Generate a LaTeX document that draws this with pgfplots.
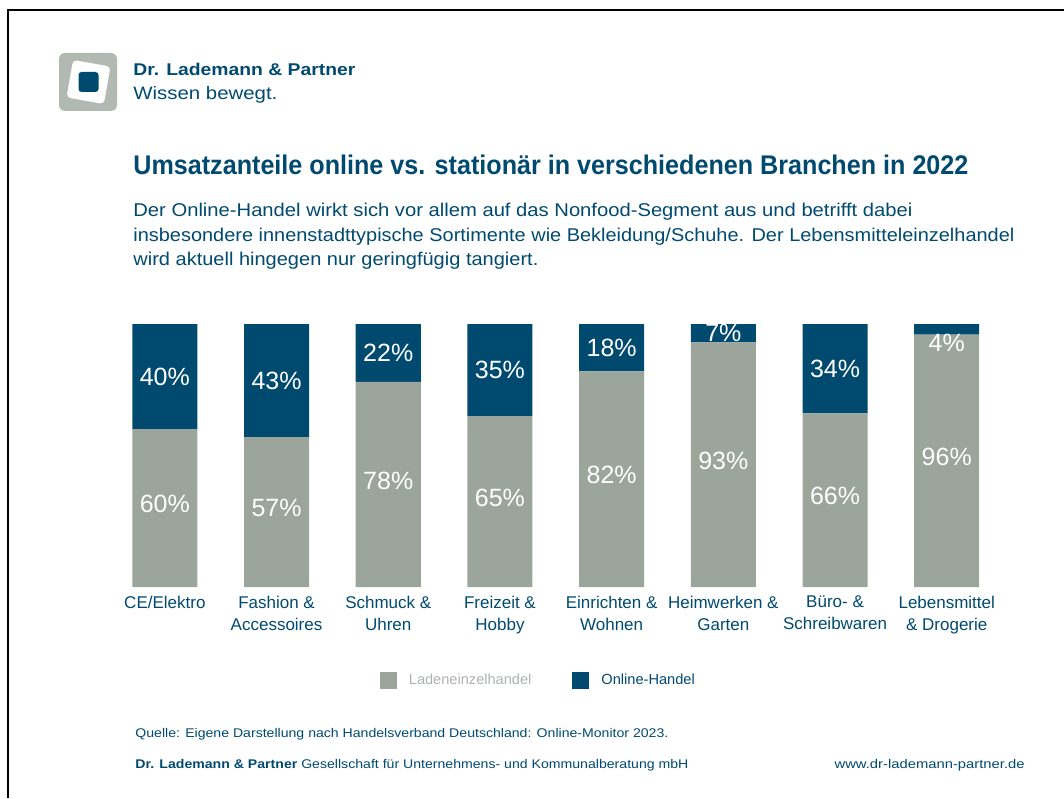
\documentclass[border=0pt]{standalone}
\usepackage{pgfplots}
\usepackage{pgfplotstable}
\pgfplotsset{compat=1.18}
\usepackage{fontspec}
\setmainfont{Liberation Sans}
\definecolor{dlblue}{HTML}{004A6F}
\definecolor{dlgrey}{HTML}{9BA59B}
\definecolor{logogrey}{HTML}{B2B8B2}
\definecolor{legtext}{HTML}{AEB3AE}

% Anteile in Prozent je Branche
\pgfplotstableread{
x laden online
0 60 40
1 57 43
2 78 22
3 65 35
4 82 18
5 93 7
6 66 34
7 96 4
}\anteile

\begin{document}
\begin{tikzpicture}
\useasboundingbox (0pt,0pt) rectangle (532pt,399pt);
\draw[line width=1.3pt] (4pt,0pt) -- (4pt,394pt) -- (532pt,394pt);

% logo
\node[fill=logogrey, rounded corners=3pt, minimum size=29pt, inner sep=0] at (44pt,358pt) {};
\node[fill=white, rounded corners=2pt, minimum size=19pt, inner sep=0, rotate=-10] at (44.25pt,358pt) {};
\node[fill=dlblue, rounded corners=1.5pt, minimum size=10pt, inner sep=0] at (44.25pt,358pt) {};
\node[anchor=base west, inner sep=0, text=dlblue, font=\fontsize{8.5}{10}\selectfont\bfseries] at (66.5pt,361pt)
  {\resizebox{111pt}{\height}{Dr. Lademann \& Partner}};
\node[anchor=base west, inner sep=0, text=dlblue, font=\fontsize{9}{11}\selectfont] at (66.5pt,349pt)
  {\resizebox{72pt}{\height}{Wissen bewegt.}};

% Titel und Text
\node[anchor=base west, inner sep=0, text=dlblue, font=\fontsize{13.5}{16}\selectfont\bfseries] at (66.5pt,311.5pt)
  {\resizebox{417.5pt}{\height}{Umsatzanteile online vs. stationär in verschiedenen Branchen in 2022}};
\begin{scope}[every node/.style={anchor=base west, inner sep=0, text=dlblue, font=\fontsize{9.25}{11}\selectfont}]
\node at (66.5pt,290.5pt) {\resizebox{389.5pt}{\height}{Der Online-Handel wirkt sich vor allem auf das Nonfood-Segment aus und betrifft dabei}};
\node at (66.5pt,278pt) {\resizebox{440.5pt}{\height}{insbesondere innenstadttypische Sortimente wie Bekleidung/Schuhe. Der Lebensmitteleinzelhandel}};
\node at (66.5pt,266pt) {\resizebox{202.5pt}{\height}{wird aktuell hingegen nur geringfügig tangiert.}};
\end{scope}

\begin{axis}[
  at={(54.5pt,105.5pt)}, anchor=south west,
  scale only axis, width=446.8pt, height=131.5pt,
  ybar stacked, bar width=32.5pt,
  xmin=-0.5, xmax=7.5, ymin=0, ymax=100,
  axis line style={draw=none},
  ytick=\empty, xtick=data, major tick length=0pt,
  xticklabels={CE/Elektro, {Fashion \&\\Accessoires}, {Schmuck \&\\Uhren}, {Freizeit \&\\Hobby},
    {Einrichten \&\\Wohnen}, {Heimwerken \&\\Garten}, {Büro- \&\\Schreibwaren}, {Lebensmittel\\\& Drogerie}},
  xticklabel style={align=center, text=dlblue, font=\fontsize{8.5}{11}\selectfont, yshift=-1pt},
  /pgf/number format/assume math mode=true,
  nodes near coords={\pgfmathprintnumber{\rawy}\%},
  visualization depends on=rawy \as \rawy,
  % labels sit mid-segment; very thin segments push the label down a bit
  every node near coord/.append style={anchor=center, text=white, font=\fontsize{12.5}{14}\selectfont,
    shift={(axis direction cs:0,{-max(0,5-\rawy)*5})}},
  legend style={at={(0.4816,-0.357)}, anchor=center, draw=none, fill=none, legend columns=2,
    font=\fontsize{7.3}{8}\selectfont, /tikz/every even column/.append style={column sep=18.5pt}},
  legend image code/.code={\fill[#1] (0pt,-4.25pt) rectangle (8.5pt,4.25pt); \path (12.5pt,0pt);},
]
\addplot[fill=dlgrey, draw=none, every node near coord/.append style={yshift=2pt}] table[x=x, y=laden] {\anteile};
\addplot[fill=dlblue, draw=none] table[x=x, y=online] {\anteile};
\legend{\textcolor{legtext}{Ladeneinzelhandel}, \textcolor{dlblue}{Online-Handel}}
\end{axis}

% Fusszeile
\node[anchor=base west, inner sep=0, text=dlblue, font=\fontsize{6.3}{8}\selectfont] at (67.5pt,30.5pt)
  {\resizebox{266.5pt}{\height}{Quelle: Eigene Darstellung nach Handelsverband Deutschland: Online-Monitor 2023.}};
\node[anchor=base west, inner sep=0, text=dlblue, font=\fontsize{6.3}{8}\selectfont] at (67.5pt,15pt)
  {\resizebox{276.5pt}{\height}{\textbf{Dr. Lademann \& Partner} Gesellschaft für Unternehmens- und Kommunalberatung mbH}};
\node[anchor=base east, inner sep=0, text=dlblue, font=\fontsize{6.3}{8}\selectfont] at (512.5pt,15pt)
  {\resizebox{95pt}{\height}{www.dr-lademann-partner.de}};
\end{tikzpicture}
\end{document}
